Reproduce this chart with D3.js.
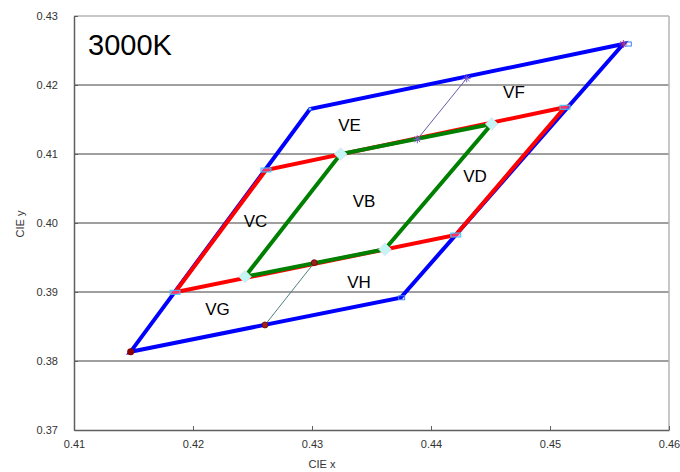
<!DOCTYPE html>
<html>
<head>
<meta charset="utf-8">
<script src="https://cdn.jsdelivr.net/npm/d3@7/dist/d3.min.js"></script>
<style>
  html, body { margin: 0; padding: 0; background: #fff; }
  svg { display: block; }
</style>
</head>
<body>
<svg id="chart" width="680" height="472"></svg>
<script>
// CIE 1931 chromaticity bins around 3000K (x, y)
const outerQuad = [[0.41476, 0.38135], [0.43745, 0.38917], [0.45616, 0.42594], [0.42983, 0.41652]];
const midQuad   = [[0.41849, 0.38996], [0.44208, 0.39826], [0.45126, 0.41677], [0.42613, 0.40768]];
const innerQuad = [[0.42437, 0.39222], [0.43613, 0.39619], [0.44510, 0.41435], [0.43241, 0.41000]];
const lowerDivider = [[0.43019, 0.39425], [0.42605, 0.38522]];
const upperDivider = [[0.43885, 0.41213], [0.44300, 0.42097]];

const binNames = ["VF", "VE", "VD", "VB", "VC", "VH", "VG"];
const binLabelX = [0.44697, 0.43315, 0.44370, 0.43437, 0.42525, 0.43395, 0.42206];
const binLabelY = [0.41891, 0.41420, 0.40674, 0.40319, 0.40029, 0.39138, 0.38754];

const xTicks = [0.41, 0.42, 0.43, 0.44, 0.45, 0.46];
const yTicks = [0.37, 0.38, 0.39, 0.40, 0.41, 0.42, 0.43];
const title = "3000K";

const svg = d3.select("#chart");
const plotL = 74, plotR = 669, plotT = 16, plotB = 430;

const x = d3.scaleLinear().domain([0.41, 0.46]).range([plotL, plotR]);
const y = d3.scaleLinear().domain([0.37, 0.43]).range([plotB, plotT]);

// horizontal gridlines
svg.append("g").selectAll("line")
  .data(yTicks.filter(v => v > 0.37 && v < 0.43))
  .join("line")
  .attr("x1", plotL).attr("x2", plotR)
  .attr("y1", d => y(d)).attr("y2", d => y(d))
  .attr("stroke", "#7f7f7f").attr("stroke-width", 1.5);

// frame: light top/right edges, dark axes
svg.append("line").attr("x1", plotL).attr("x2", plotR).attr("y1", y(0.43)).attr("y2", y(0.43))
  .attr("stroke", "#b4b4b4").attr("stroke-width", 1.5);
svg.append("line").attr("x1", plotR).attr("x2", plotR).attr("y1", plotT).attr("y2", plotB)
  .attr("stroke", "#b4b4b4").attr("stroke-width", 1.5);

const fmt = d3.format(".2f");
const xAxis = d3.axisBottom(x).tickValues(xTicks).tickFormat(fmt).tickSizeInner(-4).tickSizeOuter(0).tickPadding(10);
const yAxis = d3.axisLeft(y).tickValues(yTicks).tickFormat(fmt).tickSizeInner(-4).tickSizeOuter(0).tickPadding(16);

const gx = svg.append("g").attr("transform", `translate(0,${plotB})`).call(xAxis);
const gy = svg.append("g").attr("transform", `translate(${plotL},0)`).call(yAxis);
[gx, gy].forEach(g => {
  g.select(".domain").attr("stroke", "#5f5f5f").attr("stroke-width", 1.5);
  g.selectAll(".tick line").attr("stroke", "#5f5f5f");
  g.selectAll(".tick text").attr("fill", "#333").attr("font-size", 11)
    .attr("font-family", "'Liberation Sans', Arial, sans-serif");
});

// axis titles
svg.append("text").attr("x", 322).attr("y", 468).attr("text-anchor", "middle")
  .attr("font-family", "'Liberation Sans', Arial, sans-serif").attr("font-size", 11).attr("fill", "#333")
  .text("CIE x");
svg.append("text").attr("transform", `translate(24,224) rotate(-90)`).attr("text-anchor", "middle")
  .attr("font-family", "'Liberation Sans', Arial, sans-serif").attr("font-size", 11).attr("fill", "#333")
  .text("CIE y");

const line = d3.line().x(d => x(d[0])).y(d => y(d[1]));
const closed = pts => line(pts) + "Z";

// bin outlines
svg.append("path").attr("d", closed(outerQuad)).attr("fill", "none")
  .attr("stroke", "#0000ff").attr("stroke-width", 4).attr("stroke-linejoin", "miter");
svg.append("path").attr("d", closed(midQuad)).attr("fill", "none")
  .attr("stroke", "#ff0000").attr("stroke-width", 4).attr("stroke-linejoin", "miter");
svg.append("path").attr("d", closed(innerQuad)).attr("fill", "none")
  .attr("stroke", "#008000").attr("stroke-width", 4).attr("stroke-linejoin", "miter");

// thin dividers
svg.append("path").attr("d", line(lowerDivider)).attr("fill", "none")
  .attr("stroke", "#4f8080").attr("stroke-width", 1);
svg.append("path").attr("d", line(upperDivider)).attr("fill", "none")
  .attr("stroke", "#6a5aa8").attr("stroke-width", 1);

// markers
function asterisk(g, cx, cy, color) {
  const r = 4;
  [[-r, 0, r, 0], [0, -r, 0, r], [-r * 0.7, -r * 0.7, r * 0.7, r * 0.7], [-r * 0.7, r * 0.7, r * 0.7, -r * 0.7]]
    .forEach(s => g.append("line")
      .attr("x1", cx + s[0]).attr("y1", cy + s[1]).attr("x2", cx + s[2]).attr("y2", cy + s[3])
      .attr("stroke", color).attr("stroke-width", 1));
}
const mk = svg.append("g");

// corners of the outer bin
mk.append("circle").attr("cx", x(outerQuad[0][0])).attr("cy", y(outerQuad[0][1])).attr("r", 3.5).attr("fill", "#8b0000");
mk.append("rect").attr("x", x(outerQuad[1][0]) - 2).attr("y", y(outerQuad[1][1]) - 2).attr("width", 6).attr("height", 4)
  .attr("fill", "none").attr("stroke", "#3f7fff").attr("stroke-width", 1);
mk.append("rect").attr("x", x(outerQuad[2][0]) + 1).attr("y", y(outerQuad[2][1]) - 2).attr("width", 7).attr("height", 4)
  .attr("fill", "none").attr("stroke", "#3f7fff").attr("stroke-width", 1);
asterisk(mk, x(outerQuad[2][0]), y(outerQuad[2][1]), "#b0307f");
mk.append("circle").attr("cx", x(outerQuad[3][0])).attr("cy", y(outerQuad[3][1])).attr("r", 1.5).attr("fill", "#66ccff");

// corners of the middle bin
mk.selectAll(".mid").data(midQuad).join("rect")
  .attr("x", d => x(d[0]) - 5).attr("y", d => y(d[1]) - 2).attr("width", 10).attr("height", 4)
  .attr("fill", "#ff66cc").attr("fill-opacity", 0.5).attr("stroke", "#33ccff").attr("stroke-width", 1);

// corners of the inner bin
mk.selectAll(".inner").data(innerQuad).join("rect")
  .attr("x", -4.5).attr("y", -4.5).attr("width", 9).attr("height", 9)
  .attr("transform", d => `translate(${x(d[0])},${y(d[1])}) rotate(45)`)
  .attr("fill", "#c4f6f6").attr("stroke", "#e8d8f0").attr("stroke-width", 0.6);

// divider end points
mk.selectAll(".low").data(lowerDivider).join("circle")
  .attr("cx", d => x(d[0])).attr("cy", d => y(d[1])).attr("r", 3)
  .attr("fill", "#a02020").attr("stroke", "#6a0000").attr("stroke-width", 0.8);
upperDivider.forEach(d => asterisk(mk, x(d[0]), y(d[1]), "#7a5ac8"));

// bin names
svg.append("g").selectAll("text").data(binNames).join("text")
  .attr("x", (d, i) => x(binLabelX[i])).attr("y", (d, i) => y(binLabelY[i]))
  .attr("dy", "0.35em").attr("text-anchor", "middle")
  .attr("font-family", "'Liberation Sans', Arial, sans-serif").attr("font-size", 17).attr("fill", "#000")
  .text(d => d);

// chart title
svg.append("text").attr("x", 88).attr("y", 55)
  .attr("font-family", "'Liberation Sans', Arial, sans-serif").attr("font-size", 29).attr("fill", "#000")
  .text(title);
</script>
</body>
</html>
